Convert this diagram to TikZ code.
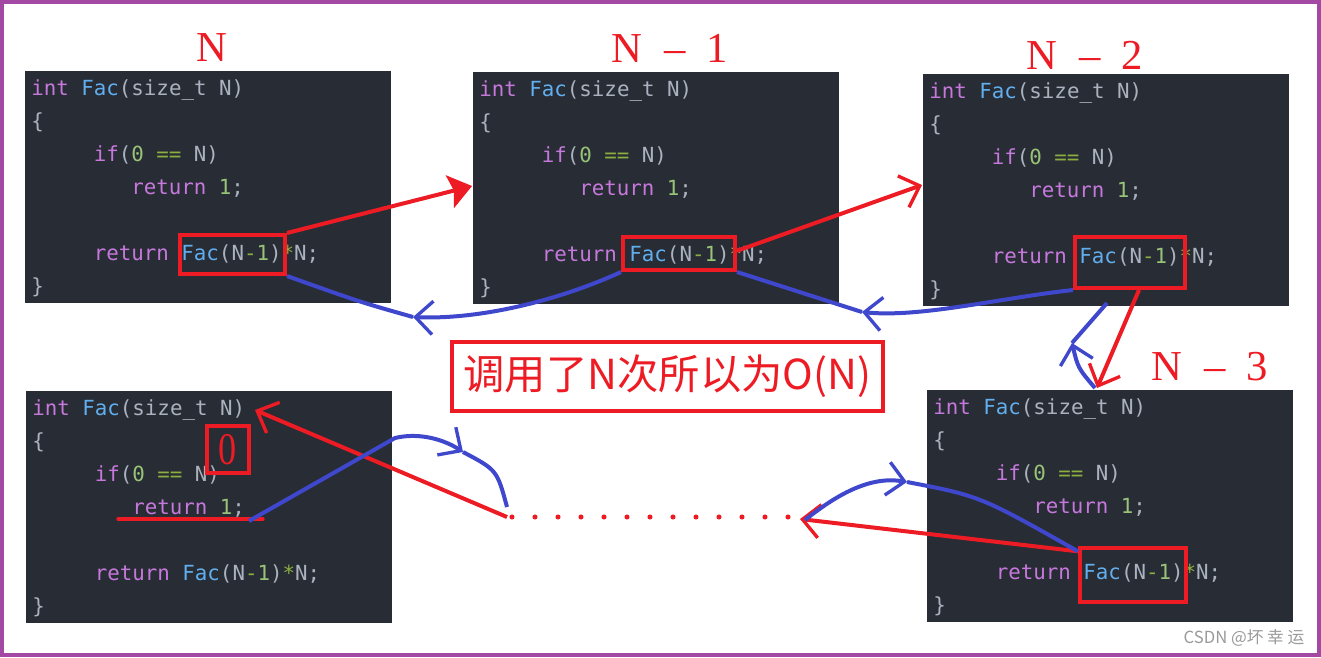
\documentclass[tikz,border=0pt]{standalone}
\usepackage{fontspec}
\newfontfamily\codefont{DejaVu Sans Mono}
\newfontfamily\labelfont{Liberation Serif}
\newfontfamily\cjkfont{Noto Sans CJK SC}
\usetikzlibrary{arrows.meta,calc}
\definecolor{bg}{HTML}{282C34}
\definecolor{ckwc}{HTML}{C678DD}
\definecolor{cfnc}{HTML}{61AFEF}
\definecolor{cplc}{HTML}{ABB2BF}
\definecolor{cnmc}{HTML}{98C379}
\definecolor{copc}{HTML}{8CB040}
\definecolor{pen}{HTML}{ED1C24}
\definecolor{ink}{HTML}{3F48CC}
\definecolor{framec}{HTML}{A349A4}
\definecolor{wmc}{HTML}{9A9A9A}
\newcommand\ckw[1]{\textcolor{ckwc}{#1}}
\newcommand\cfn[1]{\textcolor{cfnc}{#1}}
\newcommand\cpl[1]{\textcolor{cplc}{#1}}
\newcommand\cnm[1]{\textcolor{cnmc}{#1}}
\newcommand\cop[1]{\textcolor{copc}{#1}}
\tikzset{
  panelbox/.style={fill=bg, draw=none, anchor=north west, minimum width=274.5pt, minimum height=174pt, inner sep=0pt},
  codeline/.style={anchor=base west, inner sep=0pt, font=\codefont\fontsize{15.6pt}{18pt}\selectfont},
  redbox/.style={draw=pen, line width=3pt, inner sep=0pt},
  redln/.style={draw=pen, line width=3pt},
  blueln/.style={draw=ink, line width=3pt},
  steplabel/.style={text=pen, inner sep=0pt, font=\labelfont\fontsize{32pt}{36pt}\selectfont},
  barb/.tip={Straight Barb[length=13pt,width=25pt,line width=2.5pt]},
  fathead/.tip={Stealth[length=17pt,width=25pt,inset=3pt]},
  dotline/.style={draw=pen, line width=3.8pt, line cap=round, dash pattern=on 0pt off 17.25pt}
}
\newcommand\codepanel[3]{%
  \node[panelbox] (#1) at (#2,#3) {};
  \begin{scope}[shift={(#2,#3)}]
    \node[codeline] (#1-1) at (6,24) {\ckw{int} \cfn{Fac}\cpl{(size\_t N)}};
    \node[codeline] (#1-2) at (6,57) {\cpl{\{}};
    \node[codeline] (#1-3) at (68.5,90) {\ckw{if}\cpl{(}\cnm{0} \cop{==} \cpl{N)}};
    \node[codeline] (#1-4) at (106,123) {\ckw{return} \cnm{1}\cpl{;}};
    \node[codeline] (#1-6) at (68.5,189) {\ckw{return} \cfn{Fac}\cpl{(N}\cop{-}\cnm{1}\cpl{)}\cop{*}\cpl{N;}};
    \node[codeline] (#1-7) at (6,222) {\cpl{\}}};
  \end{scope}}
\begin{document}
\begin{tikzpicture}[x={(0.75pt,0)}, y={(0,-0.75pt)}]
\useasboundingbox (0,0) rectangle (1321,657);
\fill[white] (0,0) rectangle (1321,657);
\draw[draw=framec, line width=3pt] (2,2) rectangle (1318.5,654.5);

% code panels
\codepanel{pA}{25}{71}
\codepanel{pB}{473}{72}
\codepanel{pC}{923}{74}
\codepanel{pD}{927}{390}
\codepanel{pE}{26}{391}

% level labels
\node[steplabel] (tA) at (212,48) {N};
\node[steplabel] (tB) at (670,48) {N\enspace\textendash\enspace1};
\node[steplabel] (tC) at (1085,55) {N\enspace\textendash\enspace2};
\node[steplabel] (tD) at (1210,367) {N\enspace\textendash\enspace3};

% red boxes
\node[redbox, minimum width=78.75pt, minimum height=29.25pt] (bA) at (232.5,254.5) {};
\node[redbox, minimum width=84pt, minimum height=24.75pt] (bB) at (679,253.5) {};
\node[redbox, minimum width=82.5pt, minimum height=38.25pt] (bC) at (1130,262.5) {};
\node[redbox, minimum width=79.5pt, minimum height=40.5pt] (bD) at (1133,575) {};
\node[redbox, minimum width=31.5pt, minimum height=35.25pt, text=pen, font=\labelfont\fontsize{34pt}{36pt}\selectfont] (b0) at (228,449.5) {\raisebox{-1pt}{\scalebox{0.8}[1]{0}}};

% center label
\node[redbox, minimum width=323.25pt, minimum height=51.75pt, text=pen, font=\cjkfont\fontsize{31pt}{34pt}\selectfont] (lbl) at (667.5,376.5) {调用了N次所以为O(N)};

% watermark
\node[text=wmc, inner sep=0pt, font=\cjkfont\fontsize{12.5pt}{14pt}\selectfont] (wm) at (1244,638) {CSDN @坏 幸 运};

% named points
\coordinate (t1) at (472,186);
\coordinate (t2) at (922,185);
\coordinate (t3) at (1097,388);
\coordinate (t4) at (800,519);
\coordinate (t5) at (255,410);
\coordinate (dotL) at (507,517);
\coordinate (dotR) at (788.5,517);
\coordinate (v1) at (413,317);
\coordinate (v2) at (862,312);
\coordinate (v3) at (1072,343);
\coordinate (v4) at (907,482);
\coordinate (v5) at (463,452);
\coordinate (e5) at (507,507);
\coordinate (s4) at (805,520);
\coordinate (s3) at (1095,388);
\coordinate (ret) at (249,521);

% red call arrows
\draw[redln, -{fathead}] (bA.north east) -- (t1);
\draw[redln, -{barb}] ([yshift=2pt]bB.east) -- (t2);
\draw[redln, -{barb}] ([xshift=6.75pt]bC.south) -- (t3);
\draw[redln, -{barb}] ([yshift=-4pt]bD.north west) -- (t4);
\draw[redln, -{barb}] (dotL) -- (t5);

% dotted continuation
\draw[dotline] (512,517) -- (dotR);

% underline of return 1
\draw[draw=pen, line width=2.5pt, line cap=round] (118,519) -- (263,519);

% blue return arrows
\draw[blueln, -{barb}] (bB.south west) .. controls (560,300) and (480,320) .. (v1);
\draw[blueln] (v1) .. controls (360,302) .. (bA.south east);
\draw[blueln, -{barb}] (bC.south west) .. controls (1000,298) and (920,318) .. (v2);
\draw[blueln] (v2) -- (bB.south east);
\draw[blueln, -{barb}] (s3) .. controls (1078,368) .. (v3);
\draw[blueln] (v3) -- (1107,303);
\draw[blueln, -{barb}] (s4) .. controls (840,492) and (872,476) .. (v4);
\draw[blueln] (v4) .. controls (980,496) .. ([yshift=-4pt]bD.north west);
\draw[blueln, -{barb}] (ret) -- (395,438) .. controls (420,432) and (445,440) .. (v5);
\draw[blueln] (v5) .. controls (497,470) .. (e5);
\end{tikzpicture}
\end{document}
